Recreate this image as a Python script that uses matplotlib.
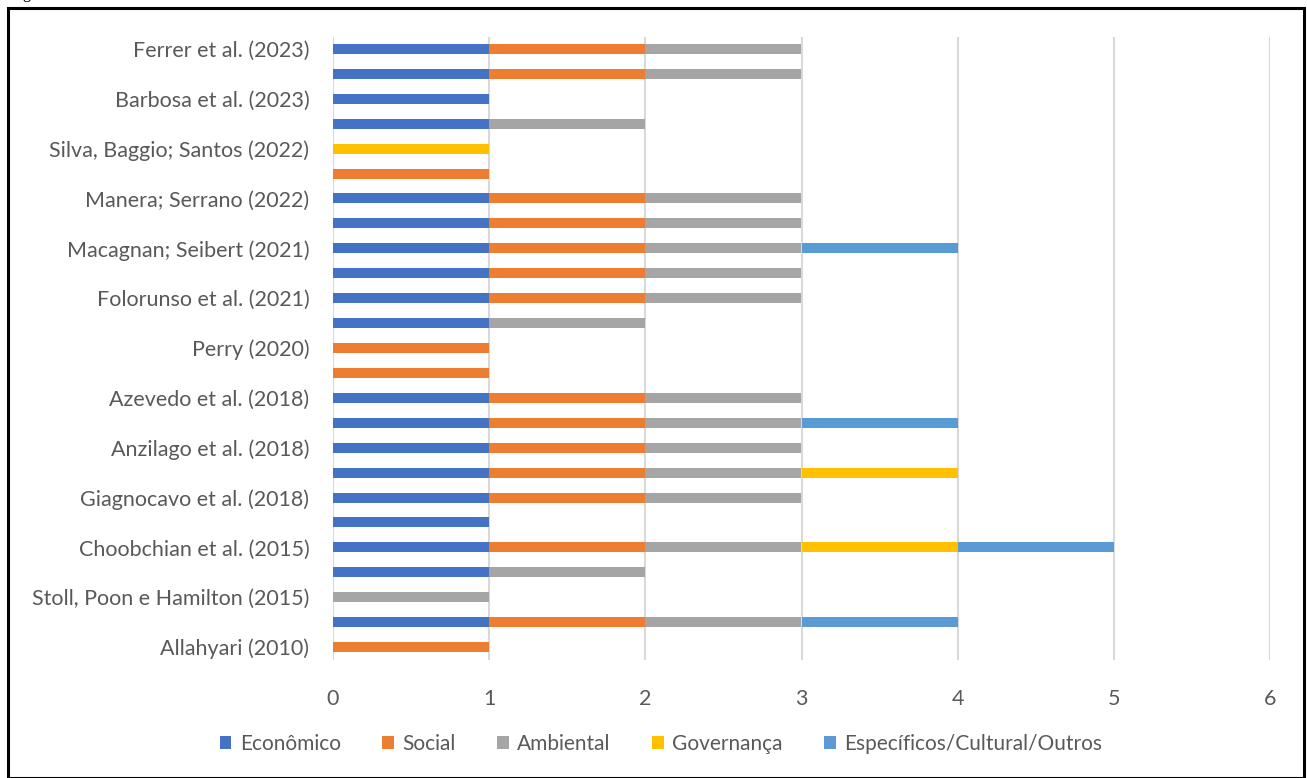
import matplotlib
matplotlib.use("Agg")
import matplotlib.pyplot as plt
from matplotlib.patches import Rectangle
import numpy as np

plt.rcParams['font.family'] = ['Lato', 'DejaVu Sans']

# Studies, bottom to top (blank entries are rows without a printed label)
studies = [
    "Allahyari (2010)", "", "Stoll, Poon e Hamilton (2015)", "",
    "Choobchian et al. (2015)", "", "Giagnocavo et al. (2018)", "",
    "Anzilago et al. (2018)", "", "Azevedo et al. (2018)", "",
    "Perry (2020)", "", "Folorunso et al. (2021)", "",
    "Macagnan; Seibert (2021)", "", "Manera; Serrano (2022)", "",
    "Silva, Baggio; Santos (2022)", "", "Barbosa et al. (2023)", "",
    "Ferrer et al. (2023)",
]

economico   = [0, 1, 0, 1, 1, 1, 1, 1, 1, 1, 1, 0, 0, 1, 1, 1, 1, 1, 1, 0, 0, 1, 1, 1, 1]
social      = [1, 1, 0, 0, 1, 0, 1, 1, 1, 1, 1, 1, 1, 0, 1, 1, 1, 1, 1, 1, 0, 0, 0, 1, 1]
ambiental   = [0, 1, 1, 1, 1, 0, 1, 1, 1, 1, 1, 0, 0, 1, 1, 1, 1, 1, 1, 0, 0, 1, 0, 1, 1]
governanca  = [0, 0, 0, 0, 1, 0, 0, 1, 0, 0, 0, 0, 0, 0, 0, 0, 0, 0, 0, 0, 1, 0, 0, 0, 0]
especificos = [0, 1, 0, 0, 1, 0, 0, 0, 0, 1, 0, 0, 0, 0, 0, 0, 1, 0, 0, 0, 0, 0, 0, 0, 0]

series_names = ["Econômico", "Social", "Ambiental", "Governança",
                "Específicos/Cultural/Outros"]
series_values = [economico, social, ambiental, governanca, especificos]
series_colors = ["#4472C4", "#ED7D31", "#A5A5A5", "#FFC000", "#5B9BD5"]

x_ticks = [0, 1, 2, 3, 4, 5, 6]

W, H = 1307, 778
fig = plt.figure(figsize=(W / 100, H / 100), dpi=100)

# plot area in pixel coordinates
left, right, top, bottom = 333, 1270, 36.5, 659.5
ax = fig.add_axes([left / W, 1 - bottom / H, (right - left) / W, (bottom - top) / H])

y = np.arange(len(studies))
base = np.zeros(len(studies))
for name, vals, col in zip(series_names, series_values, series_colors):
    vals = np.array(vals, dtype=float)
    ax.barh(y, vals, left=base, height=0.4, color=col, label=name, zorder=3)
    base += vals

ax.set_xlim(0, 6)
ax.set_ylim(-0.5, len(studies) - 0.5)
ax.set_xticks(x_ticks)
ax.set_xticklabels([str(t) for t in x_ticks])
ax.set_yticks(y)
ax.set_yticklabels(studies)
ax.tick_params(axis='both', length=0, colors="#595959", labelsize=15.5)
ax.tick_params(axis='x', pad=21)
ax.tick_params(axis='y', pad=17)
for s in ax.spines.values():
    s.set_visible(False)
ax.grid(axis='x', color="#D9D9D9", linewidth=1.5, zorder=0)
ax.set_axisbelow(True)

leg = fig.legend(loc='center', bbox_to_anchor=(661 / W, 1 - 744 / H), ncol=5,
                 frameon=False, fontsize=15, handlelength=0.55, handleheight=0.55,
                 handletextpad=0.4, columnspacing=2.0, labelcolor="#595959")

# outer frame
fig.patches.append(Rectangle((8 / W, 0), (1304 - 8) / W, 1 - 8 / H,
                             transform=fig.transFigure, fill=False,
                             edgecolor="black", linewidth=2.2))
fig.text(10 / W, 1 + 2 / H, "Figura", fontsize=12, va='baseline', ha='left',
         family=['Liberation Serif'])

fig.savefig("out.png", dpi=100)
